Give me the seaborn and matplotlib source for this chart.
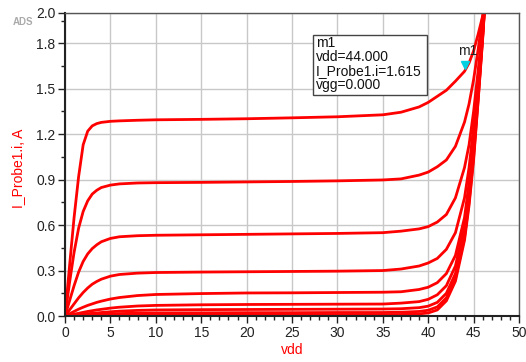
import numpy as np
import pandas as pd
import matplotlib
matplotlib.use("Agg")
import matplotlib.pyplot as plt
import seaborn as sns
from matplotlib.patches import Rectangle

sns.set_style("white")
plt.rcParams['font.family'] = ['Liberation Sans', 'DejaVu Sans']

vdd = [0, 0.5, 1, 1.5, 2, 2.5, 3, 3.5, 4, 5, 6, 8, 10, 15, 20, 25, 30, 35,
       37, 39, 40, 41, 42, 43, 44, 44.5, 45, 45.5, 46, 46.5]

curve_1 = [0, 0.33, 0.65, 0.92, 1.13, 1.22, 1.255, 1.27, 1.278, 1.285, 1.288, 1.292, 1.295, 1.298, 1.302, 1.308, 1.315, 1.328,
           1.345, 1.38, 1.41, 1.45, 1.49, 1.55, 1.615, 1.67, 1.75, 1.86, 1.98, 2.1]
curve_2 = [0, 0.22, 0.42, 0.58, 0.69, 0.76, 0.805, 0.83, 0.848, 0.864, 0.872, 0.878, 0.88, 0.882, 0.885, 0.888, 0.892, 0.898,
           0.905, 0.93, 0.95, 0.985, 1.03, 1.12, 1.28, 1.40, 1.56, 1.76, 1.98, 2.2]
curve_3 = [0, 0.10, 0.20, 0.29, 0.36, 0.41, 0.445, 0.47, 0.49, 0.512, 0.523, 0.53, 0.533, 0.536, 0.539, 0.542, 0.545, 0.55,
           0.56, 0.575, 0.59, 0.62, 0.67, 0.78, 0.98, 1.13, 1.35, 1.62, 1.92, 2.25]
curve_4 = [0, 0.04, 0.08, 0.12, 0.155, 0.185, 0.21, 0.228, 0.243, 0.263, 0.274, 0.283, 0.287, 0.29, 0.292, 0.294, 0.296, 0.30,
           0.31, 0.33, 0.35, 0.38, 0.44, 0.55, 0.78, 0.98, 1.25, 1.55, 1.90, 2.3]
curve_5 = [0, 0.015, 0.03, 0.045, 0.058, 0.07, 0.08, 0.09, 0.098, 0.112, 0.122, 0.135, 0.142, 0.148, 0.152, 0.153, 0.155, 0.157,
           0.16, 0.175, 0.19, 0.22, 0.28, 0.40, 0.65, 0.88, 1.18, 1.52, 1.88, 2.3]
curve_6 = [0, 0.006, 0.012, 0.018, 0.024, 0.03, 0.035, 0.04, 0.044, 0.052, 0.058, 0.066, 0.07, 0.074, 0.076, 0.077, 0.078, 0.079,
           0.085, 0.095, 0.11, 0.14, 0.20, 0.33, 0.60, 0.82, 1.12, 1.48, 1.86, 2.3]
curve_7 = [0, 0.003, 0.006, 0.009, 0.012, 0.015, 0.018, 0.02, 0.023, 0.028, 0.032, 0.037, 0.04, 0.042, 0.043, 0.044, 0.045, 0.046,
           0.048, 0.055, 0.065, 0.09, 0.15, 0.28, 0.55, 0.78, 1.08, 1.45, 1.85, 2.3]
curve_8 = [0, 0.0015, 0.003, 0.0045, 0.006, 0.0075, 0.009, 0.0105, 0.012, 0.014, 0.016, 0.019, 0.02, 0.021, 0.022, 0.022, 0.023, 0.023,
           0.025, 0.03, 0.038, 0.06, 0.12, 0.25, 0.52, 0.75, 1.05, 1.43, 1.84, 2.3]
curve_9 = [0, 0.0005, 0.001, 0.0015, 0.002, 0.0025, 0.003, 0.0035, 0.004, 0.005, 0.006, 0.007, 0.0075, 0.008, 0.008, 0.008, 0.0085, 0.009,
           0.01, 0.014, 0.02, 0.04, 0.10, 0.23, 0.50, 0.73, 1.03, 1.42, 1.83, 2.3]

curves = [curve_1, curve_2, curve_3, curve_4, curve_5, curve_6, curve_7, curve_8, curve_9]

x_ticks = [0, 5, 10, 15, 20, 25, 30, 35, 40, 45, 50]
y_ticks = [0.0, 0.3, 0.6, 0.9, 1.2, 1.5, 1.8, 2.0]
y_tick_labels = ["0.0", "0.3", "0.6", "0.9", "1.2", "1.5", "1.8", "2.0"]

marker_vdd = 44.0
marker_i = 1.615
marker_text = "m1\nvdd=44.000\nI_Probe1.i=1.615\nvgg=0.000"

rows = []
for k, c in enumerate(curves):
    for xv, yv in zip(vdd, c):
        rows.append({"vdd": xv, "I": yv, "curve": f"c{k}"})
df = pd.DataFrame(rows)

fig = plt.figure(figsize=(5.26, 3.62), dpi=100)
ax = fig.add_axes([65/526, 1 - 316/362, (519-65)/526, (316-13)/362])

sns.lineplot(data=df, x="vdd", y="I", hue="curve", palette=["#ff0000"]*len(curves),
             legend=False, linewidth=2.0, ax=ax, sort=False, estimator=None)

ax.set_xlim(0, 50)
ax.set_ylim(0, 2.0)
ax.set_xticks(x_ticks)
ax.set_xticklabels([str(t) for t in x_ticks])
ax.set_yticks(y_ticks)
ax.set_yticklabels(y_tick_labels)
ax.set_xticks(np.arange(0, 51, 1), minor=True)
ax.set_yticks([0.15, 0.45, 0.75, 1.05, 1.35, 1.65, 1.95], minor=True)

ax.grid(True, which="major", color="#c8c8c8", linewidth=1.0)
ax.set_axisbelow(True)
for s in ax.spines.values():
    s.set_color("#555555")
    s.set_linewidth(1.0)
ax.spines['left'].set_color("#222222")
ax.spines['bottom'].set_color("#222222")
ax.spines['left'].set_linewidth(1.5)
ax.spines['bottom'].set_linewidth(1.5)

ax.tick_params(axis="both", which="major", direction="out", length=5, width=1, color="#222222",
               labelsize=10, labelcolor="#222222", pad=2, left=True, bottom=True)
ax.tick_params(axis="both", which="minor", direction="out", length=3, width=1, color="#222222",
               left=True, bottom=True)

ax.set_xlabel("vdd", color="#ff0000", fontsize=10)
ax.xaxis.set_label_coords((292 - 65) / 454, (316 - 350) / 303)
ax.xaxis.label.set_va("center")
ax.set_ylabel("I_Probe1.i, A", color="#ff0000", fontsize=10)
ax.yaxis.set_label_coords((18 - 65) / 454, (316 - 168) / 303)
ax.yaxis.label.set_va("center")

fig.text(13/526, 1 - 22/362, "ADS", color="#aaaaaa", fontsize=7, fontweight="bold", ha="left", va="center")

# marker
ax.plot([marker_vdd], [marker_i + 0.04], marker="v", color="#00d0e0", markersize=6, linestyle="none")
ax.text(marker_vdd + 0.4, marker_i + 0.09, "m1", fontsize=10, color="#222222", ha="center", va="bottom")

# marker readout box
box = Rectangle((313/526, 1 - 95/362), (427-313)/526, (95-35)/362, transform=fig.transFigure,
                facecolor="white", edgecolor="#444444", linewidth=1.0, zorder=5)
fig.patches.append(box)
fig.text(316/526, 1 - 36/362, marker_text, fontsize=10, color="#111111", ha="left", va="top",
         linespacing=1.0, zorder=6)

fig.savefig("out.png", dpi=100)
